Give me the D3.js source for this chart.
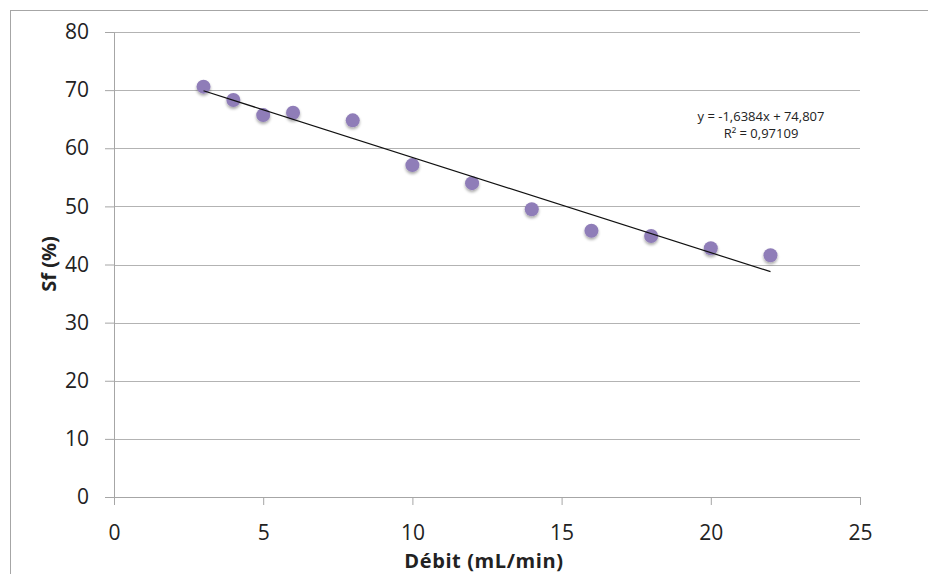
<!DOCTYPE html>
<html><head><meta charset="utf-8">
<script src="https://cdn.jsdelivr.net/npm/d3@7"></script>
<style>
html,body{margin:0;padding:0;background:#fff;}
svg{display:block;}
text{font-family:"Open Sans","Noto Sans",sans-serif;fill:#222;}
</style></head>
<body>
<svg id="chart" width="928" height="574"></svg>
<script>
const debit = [3, 4, 5, 6, 8, 10, 12, 14, 16, 18, 20, 22];
const sf = [70.6, 68.3, 65.7, 66.1, 64.8, 57.1, 54.0, 49.5, 45.8, 44.9, 42.8, 41.6];
const xTicks = [0, 5, 10, 15, 20, 25];
const yTicks = [0, 10, 20, 30, 40, 50, 60, 70, 80];
const slope = -1.6384, intercept = 74.807;
const trendRange = [3, 22];
const equationLines = ["y = -1,6384x + 74,807", "R² = 0,97109"];
const xTitle = "Débit (mL/min)";
const yTitle = "Sf (%)";

const svg = d3.select("#chart");
const x = d3.scaleLinear().domain([0, 25]).range([114, 860]);
const y = d3.scaleLinear().domain([0, 80]).range([497, 32]);
const FONT = "'Open Sans','Noto Sans',sans-serif";

// outer border
svg.append("rect").attr("x", 10.5).attr("y", 10.5).attr("width", 940).attr("height", 600)
  .attr("fill", "none").attr("stroke", "#a6a6a6").attr("stroke-width", 1);

// gridlines
svg.append("g").selectAll("line").data(yTicks.filter(d => d > 0)).join("line")
  .attr("x1", x(0)).attr("x2", x(25))
  .attr("y1", d => Math.round(y(d)) + 0.5).attr("y2", d => Math.round(y(d)) + 0.5)
  .attr("stroke", "#b3b3b3").attr("stroke-width", 1);

// y axis
const yAxis = d3.axisLeft(y).tickValues(yTicks).tickSize(9).tickPadding(16).tickFormat(d3.format("d"));
const gy = svg.append("g").attr("transform", `translate(${x(0)},0)`).call(yAxis);
gy.select(".domain").attr("stroke", "#a6a6a6");
gy.selectAll(".tick line").attr("stroke", "#a6a6a6");
gy.selectAll(".tick text").attr("font-size", 21).attr("fill", "#222").attr("font-family", FONT);

// x axis
const xAxis = d3.axisBottom(x).tickValues(xTicks).tickSize(8).tickPadding(20).tickFormat(d3.format("d"));
const gx = svg.append("g").attr("transform", `translate(0,${y(0)})`).call(xAxis);
gx.select(".domain").attr("stroke", "#a6a6a6");
gx.selectAll(".tick line").attr("stroke", "#a6a6a6");
gx.selectAll(".tick text").attr("font-size", 21).attr("fill", "#222").attr("font-family", FONT);

// titles
svg.append("text").attr("x", 484).attr("y", 568).attr("text-anchor", "middle")
  .attr("font-size", 20).attr("font-weight", "bold").attr("letter-spacing", 0.6).text(xTitle);
svg.append("text").attr("transform", "translate(56,264) rotate(-90)").attr("text-anchor", "middle")
  .attr("font-size", 20).attr("font-weight", "bold").text(yTitle);

// shadow filter
const defs = svg.append("defs");
const f = defs.append("filter").attr("id", "sh").attr("x", "-50%").attr("y", "-50%").attr("width", "200%").attr("height", "200%");
f.append("feGaussianBlur").attr("in", "SourceAlpha").attr("stdDeviation", 1.5);
f.append("feOffset").attr("dx", 0).attr("dy", 2).attr("result", "ob");
f.append("feComponentTransfer").append("feFuncA").attr("type", "linear").attr("slope", 0.35);
const m = f.append("feMerge");
m.append("feMergeNode");
m.append("feMergeNode").attr("in", "SourceGraphic");

// points
svg.append("g").selectAll("circle").data(debit.map((d, i) => [d, sf[i]])).join("circle")
  .attr("cx", d => x(d[0])).attr("cy", d => y(d[1])).attr("r", 7)
  .attr("fill", "#8f7db8").attr("filter", "url(#sh)");

// trendline
svg.append("line")
  .attr("x1", x(trendRange[0])).attr("y1", y(slope * trendRange[0] + intercept))
  .attr("x2", x(trendRange[1])).attr("y2", y(slope * trendRange[1] + intercept))
  .attr("stroke", "#111").attr("stroke-width", 1.2);

// equation (two separate text lines)
svg.append("g").selectAll("text").data(equationLines).join("text")
  .attr("x", 761).attr("y", (d, i) => 121 + i * 17)
  .attr("text-anchor", "middle").attr("font-size", 13).text(d => d);
</script>
</body></html>
